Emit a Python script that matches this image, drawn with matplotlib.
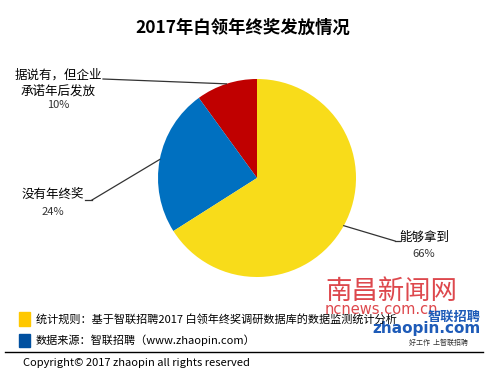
import numpy as np
import matplotlib
matplotlib.use('Agg')
import matplotlib.pyplot as plt
from matplotlib.lines import Line2D
from matplotlib.patches import Rectangle

plt.rcParams['font.family'] = ['Noto Sans CJK SC', 'DejaVu Sans']

# data (counter-clockwise from 12 o'clock)
labels = ['据说有，但企业\n承诺年后发放', '没有年终奖', '能够拿到']
values = [10, 24, 66]
colors = ['#C00000', '#0070C0', '#F8DC1A']

W, H = 490, 377
fig = plt.figure(figsize=(W / 100, H / 100), dpi=100)

def fx(x):
    return x / W

def fy(y):
    return 1 - y / H

# pie, center (257,178) px, radius 99 px
cx, cy, r = 257, 178, 99
ax = fig.add_axes([fx(cx - r), fy(cy + r), 2 * r / W, 2 * r / H])
wedges, _ = ax.pie(values, colors=colors, startangle=90, counterclock=True,
                   radius=1, wedgeprops=dict(linewidth=0))
ax.set_xlim(-1, 1)
ax.set_ylim(-1, 1)
ax.axis('off')

fig.text(fx(243), fy(28), '2017年白领年终奖发放情况', ha='center', va='center',
         fontsize=12.5, fontweight='bold', color='black')

# label positions (px): line end, underscore end, text anchor
label_pos = [
    dict(end=(103, 79), tick=None, text=(58, 83), pct=(58, 105)),
    dict(end=(92, 200), tick=(85, 200), text=(53, 194), pct=(53, 212)),
    dict(end=(395, 241), tick=(400, 241), text=(424, 237), pct=(424, 254)),
]

inv = fig.transFigure.inverted()
for w, lab, v, p in zip(wedges, labels, values, label_pos):
    mid = np.deg2rad((w.theta1 + w.theta2) / 2)
    pt = ax.transData.transform((np.cos(mid), np.sin(mid)))
    px, py = inv.transform(pt)
    ex, ey = fx(p['end'][0]), fy(p['end'][1])
    fig.add_artist(Line2D([px, ex], [py, ey], color='#333333', lw=0.9))
    if p['tick'] is not None:
        fig.add_artist(Line2D([ex, fx(p['tick'][0])], [ey, ey], color='#333333', lw=0.9))
    fig.text(fx(p['text'][0]), fy(p['text'][1]), lab, ha='center', va='center',
             fontsize=9, color='black', linespacing=1.3)
    fig.text(fx(p['pct'][0]), fy(p['pct'][1]), f'{v}%', ha='center', va='center',
             fontsize=8, color='#333333')

# watermark
fig.text(fx(325), fy(291), '南昌新闻网', ha='left', va='center', fontsize=19,
         color='#D8282E', alpha=0.85)
fig.text(fx(325), fy(310), 'ncnews.com.cn', ha='left', va='center', fontsize=10.5,
         color='#D8282E', alpha=0.85, family='DejaVu Sans')
fig.text(fx(481), fy(317), '智联招聘', ha='right', va='center', fontsize=9.5,
         color='#1E5BB8', fontweight='bold', style='italic')
fig.text(fx(481), fy(329), 'zhaopin.com', ha='right', va='center', fontsize=11,
         color='#1E5BB8', fontweight='bold', family='DejaVu Sans')
fig.text(fx(468), fy(343), '好工作  上智联招聘', ha='right', va='center', fontsize=5,
         color='#333333')

# footer legend
fig.add_artist(Rectangle((fx(19), fy(326)), 11 / W, 14 / H, color='#FFC800',
                         transform=fig.transFigure))
fig.add_artist(Rectangle((fx(19), fy(347)), 11 / W, 13 / H, color='#0050A0',
                         transform=fig.transFigure))
fig.text(fx(36), fy(319), '统计规则：基于智联招聘2017 白领年终奖调研数据库的数据监测统计分析',
         ha='left', va='center', fontsize=8, color='black')
fig.text(fx(36), fy(340), '数据来源：智联招聘（www.zhaopin.com）',
         ha='left', va='center', fontsize=8, color='black')
fig.add_artist(Line2D([fx(5), fx(483)], [fy(352), fy(352)], color='black', lw=1))
fig.text(fx(23), fy(363), 'Copyright© 2017 zhaopin all rights reserved',
         ha='left', va='center', fontsize=8, color='black')

fig.savefig('out.png', dpi=100)
